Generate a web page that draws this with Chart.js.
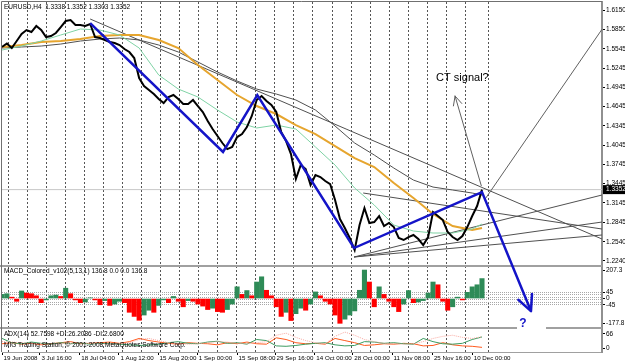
<!DOCTYPE html>
<html>
<head>
<meta charset="utf-8">
<script src="https://cdn.jsdelivr.net/npm/chart.js"></script>
<style>
  html, body { margin: 0; padding: 0; background: #fff; }
  #grafico { display: block; }
</style>
</head>
<body>
<canvas id="grafico" width="625" height="363"></canvas>
<script>
// Eje de tiempo: barras H4 contadas desde la primera barra visible
const etiquetasTiempo = ['19 Jun 2008', '3 Jul 16:00', '18 Jul 04:00', '1 Aug 12:00', '15 Aug 20:00',
    '1 Sep 00:00', '15 Sep 08:00', '29 Sep 16:00', '14 Oct 00:00', '28 Oct 00:00', '11 Nov 08:00',
    '25 Nov 16:00', '10 Dec 00:00'];
const barrasEtiquetas = [0, 62, 127, 191, 255, 319, 384, 446, 511, 573, 637, 703, 768];
const ULTIMA_BARRA = 784;
const BARRA_MAX = 980;

// Eje de precios
const etiquetasPrecio = ['1.6150', '1.5850', '1.5545', '1.5245', '1.4945', '1.4645', '1.4345',
    '1.4045', '1.3745', '1.3445', '1.3145', '1.2845', '1.2540', '1.2240'];
const precioActual = 1.3352;

// Cierres EURUSD H4, uno cada 8 barras
const PASO_PRECIO = 8;
const cierres = [
    1.5574, 1.5628, 1.5558, 1.5667, 1.5776, 1.5838, 1.5807, 1.5901, 1.5838, 1.5729,
    1.5745, 1.5792, 1.5885, 1.5979, 1.5994, 1.5916, 1.5916, 1.5901, 1.5932, 1.5729,
    1.5714, 1.5683, 1.5651, 1.5636, 1.5605, 1.5542, 1.5496, 1.5402, 1.5091, 1.4966,
    1.4904, 1.4841, 1.4763, 1.4701, 1.4795, 1.4826, 1.4763, 1.4686, 1.4686, 1.4748,
    1.4654, 1.4561, 1.4421, 1.4296, 1.4187, 1.4078, 1.3984, 1.4016, 1.4171, 1.4218,
    1.4327, 1.4499, 1.4748, 1.4810, 1.4732, 1.4670, 1.4561, 1.4249, 1.4109, 1.3906,
    1.3517, 1.3735, 1.3673, 1.3424, 1.3579, 1.3548, 1.3486, 1.3439, 1.3190, 1.2894,
    1.2754, 1.2598, 1.2411, 1.2800, 1.3065, 1.2832, 1.2847, 1.2941, 1.2785, 1.2832,
    1.2769, 1.2598, 1.2567, 1.2613, 1.2645, 1.2582, 1.2489, 1.2613, 1.3003, 1.2941,
    1.2878, 1.2691, 1.2613, 1.2567, 1.2629, 1.2769, 1.2941, 1.3096, 1.3352
];

// Medias moviles, una cada 32 barras (la ultima en la barra final)
const PASO_MEDIAS = 32;
const mediaVerde = [
    1.5527, 1.5589, 1.5667, 1.5761, 1.5854, 1.5838, 1.5761, 1.5558, 1.5137, 1.4919,
    1.4795, 1.4592, 1.4405, 1.4312, 1.4358, 1.4296, 1.4016, 1.3735, 1.3377, 1.3112,
    1.2800, 1.2707, 1.2676, 1.2676, 1.2738, 1.2816
];
const mediaNaranja = [
    1.5574, 1.5605, 1.5651, 1.5667, 1.5698, 1.5745, 1.5761, 1.5761, 1.5683, 1.5558,
    1.5293, 1.5059, 1.4826, 1.4654, 1.4530, 1.4358, 1.4218, 1.4031, 1.3844, 1.3704,
    1.3455, 1.3221, 1.2972, 1.2785, 1.2722, 1.2754
];
const mediaGris = [
    1.5558, 1.5574, 1.5589, 1.5620, 1.5667, 1.5698, 1.5714, 1.5683, 1.5605, 1.5496,
    1.5340, 1.5184, 1.5044, 1.4919, 1.4841, 1.4748, 1.4592, 1.4343, 1.4078, 1.3891,
    1.3688, 1.3501, 1.3392, 1.3346, 1.3299, 1.3268
];

// Objetos dibujados a mano: zigzag azul, flechas y lineas de tendencia [barra, precio]
const zigzagBarras = [144, 361, 417, 575, 784, 864];
const zigzagPrecios = [1.5947, 1.3938, 1.4826, 1.2442, 1.3314, 1.1460];
const flechaSenal = [[783, 1.3408], [740, 1.4810]];
const lineaSubida = [[788, 1.3190], [980, 1.5850]];
const lineasTendencia = [
    [[144, 1.6010], [980, 1.2582]],
    [[590, 1.3299], [980, 1.2738]],
    [[575, 1.2302], [980, 1.3268]],
    [[575, 1.2302], [980, 1.2847]],
    [[575, 1.2302], [980, 1.2645]]
];
const textoSenal = { texto: 'CT signal?', barra: 752, precio: 1.5091 };
const textoDuda = { texto: '?', barra: 851, precio: 1.1258 };

// MACD_Colored histograma, uno cada 8 barras
const macdValores = [
    30, 35, 10, -20, 55, 40, 35, 20, -30, -10,
    20, 25, 15, 75, 35, -10, -30, -25, 5, -10,
    -45, -15, -50, -40, -20, -30, -100, -130, -158, -120,
    -85, -100, -50, -10, -30, 15, -20, -60, -15, -20,
    -40, -55, -80, -70, -95, -100, -80, -40, 85, 30,
    58, 20, 120, 158, 60, 20, -60, -130, -100, -160,
    -110, -70, -85, -40, 48, 20, -20, -40, -120, -180,
    -150, -120, -90, 60, 207, 120, -60, 85, 30, -20,
    -60, -95, -40, 58, -30, -25, -15, 40, 120, 100,
    -20, -85, -60, 10, -10, 45, 85, 100, 145
];
const macdNiveles = [45, 27, 9, -9, -27, -45];
const macdEtiquetas = ['207.3', '45', '0', '-45', '-177.8'];

// ADX(14), uno cada 16 barras
const PASO_ADX = 16;
const adxMasDI = [
    45, 25, 20, 28, 22, 18, 25, 20, 24, 18, 22, 20, 18, 15, 12, 14, 18, 25, 30, 22,
    20, 28, 32, 22, 25, 18, 40, 35, 10, 8, 12, 18, 22, 25, 15, 10, 12, 30, 28, 22,
    25, 20, 18, 45, 30, 20, 18, 22, 40, 52
];
const adxMenosDI = [
    20, 25, 18, 22, 15, 20, 25, 30, 20, 22, 25, 28, 22, 30, 45, 35, 28, 22, 18, 25,
    22, 20, 15, 25, 20, 28, 20, 18, 48, 40, 25, 20, 22, 18, 45, 35, 25, 12, 15, 20,
    18, 22, 20, 10, 12, 25, 15, 10, 8, 3
];
const adxLinea = [
    30, 28, 25, 22, 20, 18, 20, 22, 25, 22, 20, 18, 20, 25, 40, 45, 35, 25, 20, 18,
    20, 25, 30, 28, 22, 20, 25, 30, 60, 70, 50, 35, 25, 20, 55, 75, 60, 40, 30, 22,
    20, 18, 20, 30, 45, 55, 60, 50, 45, 53
];
const adxEtiquetas = ['66', '0'];

const tituloPrincipal = 'EURUSD,H4  1.3338 1.3352 1.3303 1.3352';
const tituloMacd = 'MACD_Colored_v102(5,13,1) 136.8 0.0 0.0 136.8';
const tituloAdx = 'ADX(14) 52.7598 +DI:26.2086 -DI:2.6800';
const textoCopyright = 'MIG Trading Station, \u00a9 2001-2008 MetaQuotes Software Corp.';

const TRANSPARENTE = 'rgba(0,0,0,0)';
const FUENTE = '"Liberation Sans", Arial, sans-serif';

/**
 * Convierte una serie muestreada cada "paso" barras en puntos {x, y}
 * @returns
 */
var obtenerPuntos = function(valores, paso) {
    const puntos = [];
    valores.forEach((valor, i) => {
        puntos.push({ x: Math.min(i * paso, ULTIMA_BARRA), y: valor });
    });
    return puntos;
}

/**
 * Puntos de una lista de pares [barra, precio]
 * @returns
 */
var obtenerSegmento = function(pares) {
    return pares.map(p => ({ x: p[0], y: p[1] }));
}

/**
 * Verde si el histograma sube, rojo si baja
 * @returns
 */
var obtenerColoresMacd = function(valores) {
    const colores = [];
    valores.forEach((v, i) => {
        colores.push(i > 0 && v < valores[i - 1] ? '#ff0000' : '#2e8b57');
    });
    return colores;
}

/**
 * Ticks del eje X: etiquetas de fecha y lineas punteadas de la rejilla
 * @returns
 */
var obtenerTicksTiempo = function() {
    const ticks = [];
    barrasEtiquetas.forEach((b, i) => ticks.push({ value: b, texto: etiquetasTiempo[i] }));
    for (let b = 10.3; b < 770; b += 31.1) {
        ticks.push({ value: b, rejilla: true });
    }
    ticks.push({ value: 794, rejilla: true });
    return ticks.sort((a, b) => a.value - b.value);
}

/**
 * Ticks del panel MACD: etiquetas y niveles punteados
 * @returns
 */
var obtenerTicksMacd = function() {
    const ticks = macdEtiquetas.map(t => ({ value: parseFloat(t), texto: t }));
    macdNiveles.forEach(n => {
        const existente = ticks.find(t => t.value === n);
        if (existente) { existente.nivel = true; } else { ticks.push({ value: n, nivel: true }); }
    });
    return ticks.sort((a, b) => a.value - b.value);
}

var ajustarEjeDerecho = function(escala) {
    escala.width = 23;
    escala.paddingTop = 0;
    escala.paddingBottom = 0;
}

var textoTick = function(valor, indice, ticks) {
    return ticks[indice].texto || '';
}

var pluginDibujo = {
    id: 'dibujo',
    beforeDatasetsDraw(chart) {
        const ctx = chart.ctx;
        const area = chart.chartArea;
        ctx.save();
        ctx.fillStyle = '#a0a0a0';
        ctx.fillRect(0, chart.scales.y.bottom - 1, area.right, 2);
        ctx.fillRect(0, chart.scales.yMacd.bottom - 1, area.right, 2);
        ctx.restore();
    },
    afterDatasetsDraw(chart) {
        const ctx = chart.ctx;
        chart.data.datasets.forEach((ds, i) => {
            if (!ds.flecha) return;
            const pts = chart.getDatasetMeta(i).data;
            const a = pts[pts.length - 1], b = pts[pts.length - 2];
            const ang = Math.atan2(a.y - b.y, a.x - b.x);
            ctx.save();
            ctx.strokeStyle = ds.borderColor;
            ctx.lineWidth = ds.borderWidth;
            ctx.lineCap = 'round';
            ctx.beginPath();
            [-1, 1].forEach(s => {
                ctx.moveTo(a.x, a.y);
                ctx.lineTo(a.x - ds.flecha * Math.cos(ang + s * 0.45), a.y - ds.flecha * Math.sin(ang + s * 0.45));
            });
            ctx.stroke();
            ctx.restore();
        });
    },
    afterDraw(chart) {
        const ctx = chart.ctx;
        const area = chart.chartArea;
        const x = chart.scales.x, y = chart.scales.y;
        ctx.save();
        // marco del grafico
        ctx.strokeStyle = '#707070';
        ctx.lineWidth = 1;
        ctx.beginPath();
        ctx.moveTo(1.5, area.bottom);
        ctx.lineTo(1.5, 1.5);
        ctx.lineTo(area.right, 1.5);
        ctx.stroke();

        ctx.font = '6.5px ' + FUENTE;
        ctx.fillStyle = '#000';
        ctx.textBaseline = 'middle';
        ctx.textAlign = 'left';
        ctx.fillText(tituloPrincipal, 4, area.top + 5);
        ctx.fillText(tituloMacd, 4, chart.scales.yMacd.top + 5);
        ctx.fillText(tituloAdx, 4, chart.scales.yAdx.top + 6);
        ctx.fillText(textoCopyright, 4, chart.scales.yAdx.top + 17);

        // precio actual
        const py = y.getPixelForValue(precioActual);
        ctx.fillStyle = '#000';
        ctx.fillRect(area.right + 1, py - 4.5, 22, 9);
        ctx.fillStyle = '#fff';
        ctx.fillText(precioActual.toFixed(4), area.right + 4, py);

        // textos dibujados
        ctx.fillStyle = '#000';
        ctx.textAlign = 'center';
        ctx.font = '11px ' + FUENTE;
        ctx.fillText(textoSenal.texto, x.getPixelForValue(textoSenal.barra), y.getPixelForValue(textoSenal.precio));

        const qx = x.getPixelForValue(textoDuda.barra), qy = y.getPixelForValue(textoDuda.precio);
        ctx.fillStyle = '#fff';
        ctx.fillRect(qx - 6, qy - 6, 29, 12);
        ctx.fillStyle = '#1414c8';
        ctx.font = 'bold 12px ' + FUENTE;
        ctx.fillText(textoDuda.texto, qx, qy);
        ctx.restore();
    }
};
</script>
<script>
Chart.defaults.font.family = FUENTE;
Chart.defaults.font.size = 6.5;
Chart.defaults.color = '#000';

const datasets = [
    { label: 'zigzag', data: obtenerSegmento(zigzagBarras.map((b, i) => [b, zigzagPrecios[i]])),
      borderColor: '#1414c8', borderWidth: 2.5, flecha: 17, clip: false, order: 0 },
    { label: 'senal', data: obtenerSegmento(flechaSenal), borderColor: '#606060', borderWidth: 1, flecha: 10, order: 1 },
    { label: 'subida', data: obtenerSegmento(lineaSubida), borderColor: '#606060', borderWidth: 1, order: 1 },
    { label: 'EURUSD', data: obtenerPuntos(cierres, PASO_PRECIO), borderColor: '#000', borderWidth: 2, order: 2 },
    { label: 'verde', data: obtenerPuntos(mediaVerde, PASO_MEDIAS), borderColor: '#7fd3a5', borderWidth: 1, order: 3 },
    { label: 'naranja', data: obtenerPuntos(mediaNaranja, PASO_MEDIAS), borderColor: '#e6a52e', borderWidth: 2, order: 4 },
    { label: 'gris', data: obtenerPuntos(mediaGris, PASO_MEDIAS), borderColor: '#505050', borderWidth: 1, order: 5 }
];
lineasTendencia.forEach(l => {
    datasets.push({ label: 'tendencia', data: obtenerSegmento(l), borderColor: '#505050', borderWidth: 1, order: 6 });
});
datasets.push({ label: 'bid', data: [{ x: 0, y: precioActual }, { x: BARRA_MAX, y: precioActual }],
    borderColor: '#c8c8c8', borderWidth: 1, order: 8 });
datasets.push({ type: 'bar', label: 'MACD', yAxisID: 'yMacd', data: obtenerPuntos(macdValores, PASO_PRECIO),
    backgroundColor: obtenerColoresMacd(macdValores), barThickness: 'flex',
    barPercentage: 0.9, categoryPercentage: 1, order: 9 });
datasets.push({ label: 'ADX', yAxisID: 'yAdx', data: obtenerPuntos(adxLinea, PASO_ADX),
    borderColor: '#f8a8a0', borderWidth: 1, borderDash: [1, 1], order: 10 });
datasets.push({ label: '+DI', yAxisID: 'yAdx', data: obtenerPuntos(adxMasDI, PASO_ADX),
    borderColor: '#3c9b60', borderWidth: 1, order: 10 });
datasets.push({ label: '-DI', yAxisID: 'yAdx', data: obtenerPuntos(adxMenosDI, PASO_ADX),
    borderColor: '#ff5a1e', borderWidth: 1, order: 10 });

const ctx = document.getElementById('grafico');

new Chart(ctx, {
    type: 'line',
    data: { datasets: datasets },
    options: {
        responsive: false,
        animation: false,
        layout: { padding: { left: 2, top: 2, right: 0, bottom: 0 } },
        plugins: { legend: { display: false }, tooltip: { enabled: false } },
        elements: { point: { radius: 0 }, line: { tension: 0 } },
        scales: {
            x: {
                type: 'linear', min: 0, max: BARRA_MAX, offset: false,
                afterBuildTicks: e => { e.ticks = obtenerTicksTiempo(); },
                afterFit: e => { e.height = 11; e.paddingLeft = 0; e.paddingRight = 0; },
                ticks: { autoSkip: false, maxRotation: 0, align: 'start', padding: 0, labelOffset: 1.5,
                    font: { size: 6.2 }, callback: textoTick },
                grid: {
                    offset: false,
                    color: c => c.tick && c.tick.rejilla ? '#555' : TRANSPARENTE,
                    tickColor: c => c.tick && c.tick.texto ? '#000' : TRANSPARENTE,
                    tickLength: 3
                },
                border: { color: '#a0a0a0', width: 1, dash: [2, 2] }
            },
            y: {
                position: 'right', stack: 'paneles', stackWeight: 264,
                min: 1.2162, max: 1.6275,
                afterBuildTicks: e => { e.ticks = etiquetasPrecio.map(t => ({ value: parseFloat(t), texto: t })); },
                afterFit: ajustarEjeDerecho,
                ticks: { autoSkip: false, padding: 1, callback: textoTick },
                grid: { drawOnChartArea: false, tickLength: 3, tickColor: '#000' },
                border: { color: '#909090', width: 2 }
            },
            yMacd: {
                position: 'right', stack: 'paneles', stackWeight: 62,
                min: -214.1, max: 236.4,
                afterBuildTicks: e => { e.ticks = obtenerTicksMacd(); },
                afterFit: ajustarEjeDerecho,
                ticks: { autoSkip: false, padding: 1, callback: textoTick },
                grid: {
                    color: c => c.tick && c.tick.nivel ? '#a8a8a8' : TRANSPARENTE,
                    tickColor: c => c.tick && c.tick.texto ? '#000' : TRANSPARENTE,
                    tickLength: 3
                },
                border: { color: '#909090', width: 2, dash: [1, 1] }
            },
            yAdx: {
                position: 'right', stack: 'paneles', stackWeight: 24,
                min: -18.8, max: 94.2,
                afterBuildTicks: e => { e.ticks = adxEtiquetas.map(t => ({ value: parseFloat(t), texto: t })); },
                afterFit: ajustarEjeDerecho,
                ticks: { autoSkip: false, padding: 1, callback: textoTick },
                grid: { drawOnChartArea: false, tickLength: 3, tickColor: '#000' },
                border: { color: '#909090', width: 2 }
            }
        }
    },
    plugins: [pluginDibujo]
});
</script>
</body>
</html>
